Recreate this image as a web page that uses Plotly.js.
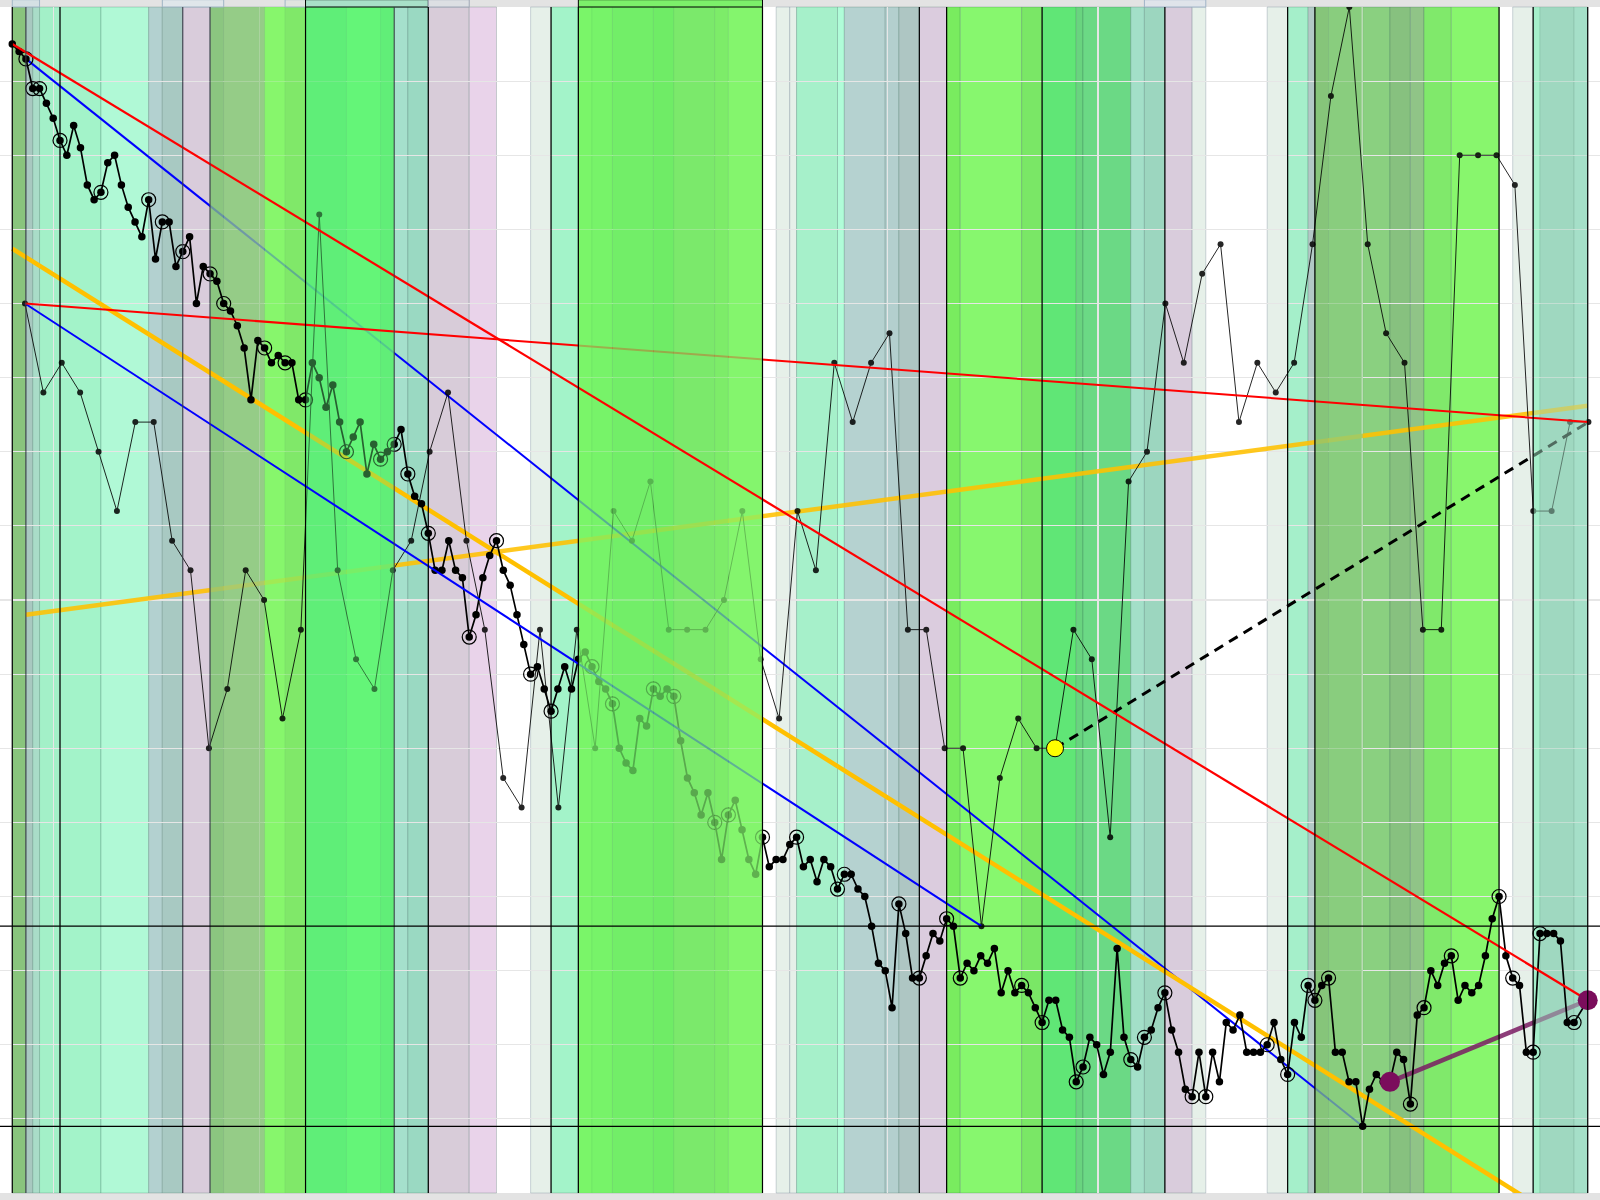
<!DOCTYPE html>
<html><head><meta charset="utf-8">
<script src="https://cdn.plot.ly/plotly-3.0.1.min.js"></script>
<style>html,body{margin:0;padding:0;background:#e3e3e3}#chart{width:1600px;height:1200px}</style>
</head><body><div id="chart"></div>
<script>
// ---- main price series (one value per bar, bars 0..229 and 231) ----
const mainY = [
255,254,253,249,249,247,245,242,240,244,
241,236,234,235,239,240,236,233,231,229,
234,226,231,231,225,227,229,220,225,224,
223,220,219,217,214,207,215,214,212,213,
212,212,207,207,212,210,206,209,204,200,
202,204,197,201,199,200,201,203,197,194,
193,189,184,184,188,184,183,175,178,183,
186,188,184,182,178,174,170,171,168,165,
168,171,168,172,173,171,169,168,166,160,
158,157,164,163,168,167,168,167,161,156,
154,151,154,150,145,151,153,149,145,143,
148,144,145,145,147,148,144,145,142,145,
144,141,143,143,141,140,136,131,130,125,
139,135,129,129,132,135,134,137,136,129,
131,130,132,131,133,127,130,127,128,127,
125,123,126,126,122,121,115,117,121,120,
116,119,133,121,118,117,121,122,125,127,
122,119,114,113,119,113,119,115,123,122,
124,119,119,119,120,123,118,116,123,121,
128,126,128,129,119,119,115,115,109,114,
116,115,115,119,118,112,124,125,130,128,
131,132,126,128,127,128,132,137,140,132,
129,128,119,119,135,135,135,134,123,123,
126];
const mainX = [...Array(230).keys(), 231];
const circledBars = [2,3,4,7,13,20,22,25,29,31,37,40,43,49,54,56,58,61,67,71,76,79,85,88,94,97,103,105,110,115,121,122,130,133,137,139,148,151,156,157,164,166,169,173,175,184,187,190,191,193,205,207,211,218,220,223,224,229];

// ---- secondary (sparser) series ----
const thinY = [
220,208,212,208,200,192,204,204,188,184,
160,168,184,180,164,176,232,184,172,168,
184,188,200,208,188,176,156,152,176,152,
176,160,192,188,196,176,176,176,180,192,
172,164,192,184,212,204,212,216,176,176,
160,160,136,156,164,160,160,176,172,148,
196,200,220,212,224,228,204,212,208,212,
228,248,260,228,216,212,176,176,240,240,
240,236,192,192,204,204];
const thinStart = 1.86, thinStep = 2.697;
const thinX = thinY.map((_, j) => thinStart + thinStep * j);

// ---- trend lines (endpoints) ----
const yellowFallX = [0, 231], yellowFallY = [227.4, 94.1];
const yellowRiseX = [2, 231], yellowRiseY = [178, 206.2];
const markerThinIdx = 56;

// ---- background regimes ----
const bandStart = [0,2,3,4,7,13,20,22,25,29,31,37,40,43,49,54,56,58,61,67,76,79,83,85,88,94,97,103,105,112,114,115,121,122,128,130,133,137,139,148,151,156,157,164,166,169,173,184,187,190,191,193,198,202,205,207,211,220,223,224,229];
const bandEnd   = [2,3,4,7,13,20,22,25,29,31,37,40,43,49,54,56,58,61,67,71,79,83,85,88,94,97,103,105,110,114,115,121,122,128,130,133,137,139,148,151,156,157,164,166,169,173,175,187,190,191,193,198,202,205,207,211,218,223,224,229,231];
const bandFill  = ['#89c47d','#a8c8c0','#a9dcc8','#a3f0c8','#a3f3c9','#b0f9d6','#b3d1d0','#a8c9c2','#d9ccdb','#8bc580','#95cc87','#87f56c','#80e86a','#5fed78','#64f578','#62ee78','#a5e0cc','#9ad9c2','#d8ccd9','#e9d3ea','#e6f0e9','#a3f3c9','#7af56a','#77f26a','#72ee68','#6fec66','#7ce96b','#7dec6a','#84f56e','#e6f0e9','#e6f0e9','#a6f0ca','#b0fcd8','#b5d2d0','#b3cfce','#aec6c3','#dbccde','#79ec5f','#87f76e','#7ae766','#60e676','#69d47f','#6bd985','#a3dfc8','#9cd6bf','#d9ccdc','#e6f0e9','#e6f0e9','#a5efca','#b2c9c6','#86c57a','#89cd7e','#8ad080','#87c17f','#90c487','#80e96b','#88f66d','#e6f0e9','#a5efca','#9fd8c0','#a5dfc8'];
const regimeBreaks = [0,7,43,61,79,83,110,133,137,151,169,187,191,218,223,231];
const softBreaks = [2,25,29,56];
const capStart = [0,22,40,43,61,83,166];
const capEnd   = [4,31,43,61,67,110,175];
const capFill  = ['#d4e0e4','#dfe6ea','#e0e4e0','#a8e0c8','#dcdfe3','#7cf06a','#dfe4ea'];
const capLine  = ['#9fb5c5','#9fb5c5','#9fb5c5','#000000','#a0a8b8','#000000','#a0b4c8'];
const gridX = [6.1, 36.2, 128.3, 159.2, 197.9];

const shapes = [];
bandStart.forEach((s, k) => {
  const light = bandFill[k] === '#e6f0e9';
  shapes.push({type:'rect', layer:'below', xref:'x', yref:'paper', x0:s, x1:bandEnd[k], y0:0, y1:1,
    fillcolor:bandFill[k], line:{color: light ? 'rgba(100,120,140,0.3)' : 'rgba(30,80,70,0.22)', width:1}});
});
capStart.forEach((s, k) => {
  shapes.push({type:'rect', layer:'above', xref:'x', yref:'paper', x0:s, x1:capEnd[k], y0:1, y1:1.0062,
    fillcolor:capFill[k], line:{color:capLine[k], width:1}});
});
softBreaks.forEach(b => shapes.push({type:'line', layer:'above', xref:'x', yref:'paper', x0:b, x1:b, y0:0, y1:1, line:{color:'#3a3a48', width:1}}));
regimeBreaks.forEach(b => shapes.push({type:'line', layer:'above', xref:'x', yref:'paper', x0:b, x1:b, y0:0, y1:1, line:{color:'#000000', width:1.2}}));
const lowThin = Math.min(...thinY), lowMain = Math.min(...mainY);
[lowThin, lowMain].forEach(v => shapes.push({type:'line', layer:'above', xref:'paper', yref:'y', x0:0, x1:1, y0:v, y1:v, line:{color:'#000000', width:1.3}}));

// translucent copies of the regime colours, drawn between traces to tint what lies beneath
function hexA(h, a) {
  const n = parseInt(h.slice(1), 16);
  return `rgba(${(n >> 16) & 255},${(n >> 8) & 255},${n & 255},${a})`;
}
function veil(x0, x1, alpha) {
  const out = [];
  bandStart.forEach((s, k) => {
    if (s >= x0 && bandEnd[k] <= x1) {
      const e = bandEnd[k];
      out.push({type:'scatter', mode:'lines', x:[s,e,e,s,s], y:[90,90,270,270,90], fill:'toself',
        fillcolor:hexA(bandFill[k], alpha), line:{width:0}, hoverinfo:'skip'});
    }
  });
  return out;
}
const last = mainX.length - 1;
const traces = [
  {type:'scatter', mode:'lines', x:yellowRiseX, y:yellowRiseY, line:{color:'#ffc000', width:4.5}, opacity:0.88},
  {type:'scatter', mode:'lines', x:[mainX[2], mainX[198]], y:[mainY[2], mainY[198]], line:{color:'#0000ff', width:2}},
  ...veil(29, 56, 0.75),
  ...veil(191, 198, 0.72),
  {type:'scatter', mode:'lines', x:yellowFallX, y:yellowFallY, line:{color:'#ffc000', width:4.5}},
  {type:'scatter', mode:'lines', x:[thinX[markerThinIdx], thinX[85]], y:[thinY[markerThinIdx], thinY[85]], line:{color:'#000000', width:3, dash:'10px,7px'}},
  {type:'scatter', mode:'lines', x:[mainX[202], mainX[last]], y:[mainY[202], mainY[last]], line:{color:'#7a1b63', width:4.5}, opacity:0.85},
  {type:'scatter', mode:'lines+markers', x:thinX, y:thinY, line:{color:'#000000', width:1}, marker:{color:'#000000', size:6}, opacity:0.85},
  ...veil(223, 231, 0.5),
  {type:'scatter', mode:'lines+markers', x:mainX, y:mainY, line:{color:'#000000', width:1.7}, marker:{color:'#000000', size:7.5}},
  {type:'scatter', mode:'markers', x:circledBars.map(b => mainX[b]), y:circledBars.map(b => mainY[b]),
    marker:{symbol:'circle-open', size:14, color:'#000000', line:{width:1.2}}},
  ...veil(43, 56, 0.4),
  {type:'scatter', mode:'lines', x:[thinX[0], thinX[52]], y:[thinY[0], thinY[52]], line:{color:'#0000ff', width:2}},
  {type:'scatter', mode:'lines', x:[thinX[0], thinX[85]], y:[thinY[0], thinY[85]], line:{color:'#ff0000', width:2}},
  ...veil(83, 110, 0.72),
  {type:'scatter', mode:'lines', x:[mainX[0], mainX[last]], y:[mainY[0], mainY[last]], line:{color:'#ff0000', width:2.2}},
  {type:'scatter', mode:'markers', x:[mainX[202], mainX[last]], y:[mainY[202], mainY[last]], marker:{color:'#7b0d5c', size:20}},
  {type:'scatter', mode:'markers', x:[thinX[markerThinIdx]], y:[thinY[markerThinIdx]], marker:{color:'#ffff00', size:17, line:{color:'#000000', width:1}}}
];

const layout = {
  width:1600, height:1200, margin:{l:0, r:0, t:7, b:7, pad:0},
  paper_bgcolor:'#e3e3e3', plot_bgcolor:'#ffffff', showlegend:false, hovermode:false,
  xaxis:{range:[-1.80, 232.8], tickvals:gridX, showgrid:true, gridcolor:'#e6e6e6', gridwidth:1.2,
    showticklabels:false, ticks:'', zeroline:false, showline:false},
  yaxis:{range:[100, 260], tick0:100, dtick:10, showgrid:true, gridcolor:'#e6e6e6', gridwidth:1.2,
    showticklabels:false, ticks:'', zeroline:false, showline:false},
  shapes: shapes
};
Plotly.newPlot('chart', traces, layout, {staticPlot:true, displayModeBar:false});
</script></body></html>
